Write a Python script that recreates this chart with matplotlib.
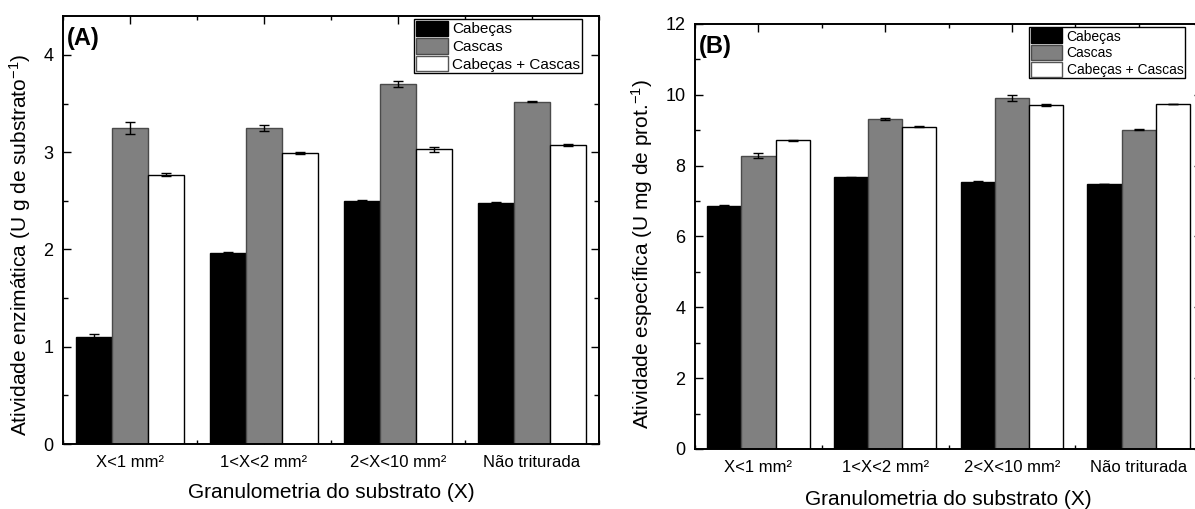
import matplotlib
matplotlib.use("Agg")
import matplotlib.pyplot as plt
import numpy as np
from matplotlib.ticker import MultipleLocator
from matplotlib.patches import Patch

plt.rcParams['font.family'] = ['Liberation Sans', 'DejaVu Sans']
plt.rcParams['mathtext.fontset'] = 'custom'
plt.rcParams['mathtext.rm'] = 'Liberation Sans'
plt.rcParams['mathtext.it'] = 'Liberation Sans:italic'
plt.rcParams['mathtext.bf'] = 'Liberation Sans:bold'

categories = ["X<1 mm²", "1<X<2 mm²", "2<X<10 mm²", "Não triturada"]
series_names = ["Cabeças", "Cascas", "Cabeças + Cascas"]

# Panel A: Atividade enzimática
a_cabecas = [1.10, 1.96, 2.50, 2.48]
a_cascas = [3.25, 3.25, 3.70, 3.52]
a_mix = [2.77, 2.99, 3.03, 3.07]
a_cabecas_err = [0.03, 0.01, 0.01, 0.005]
a_cascas_err = [0.06, 0.03, 0.035, 0.006]
a_mix_err = [0.015, 0.01, 0.027, 0.01]

# Panel B: Atividade específica
b_cabecas = [6.87, 7.67, 7.54, 7.48]
b_cascas = [8.28, 9.31, 9.92, 9.02]
b_mix = [8.71, 9.10, 9.71, 9.74]
b_cabecas_err = [0.01, 0.01, 0.02, 0.01]
b_cascas_err = [0.075, 0.03, 0.085, 0.02]
b_mix_err = [0.02, 0.01, 0.03, 0.01]

fill_colors = ["#000000", "#808080", "#ffffff"]
edge_colors = ["#000000", "#4a4a4a", "#000000"]

fig = plt.figure(figsize=(11.95, 5.09), dpi=100)
axA = fig.add_axes([0.0527, 0.1277, 0.4485, 0.8409])
axB = fig.add_axes([0.5816, 0.1179, 0.4243, 0.8350])

def draw(ax, vals, errs, ylim, ymaj, ymin, ylabel, tag, legend_anchor, ylab_xy, xlab_pad,
         leg_fs, leg_hh):
    x = np.arange(len(categories))
    w = 0.27
    for i, (v, e) in enumerate(zip(vals, errs)):
        ax.bar(x + (i - 1) * w, v, width=w, color=fill_colors[i], edgecolor=edge_colors[i],
               linewidth=1.0, yerr=e, capsize=3.5,
               error_kw=dict(ecolor='black', elinewidth=1.0, capthick=1.0), zorder=2)
    ax.set_xlim(-0.5, 3.5)
    ax.set_ylim(*ylim)
    ax.set_xticks(x)
    ax.set_xticklabels(categories, fontsize=12)
    ax.xaxis.set_minor_locator(MultipleLocator(0.5))
    ax.yaxis.set_major_locator(MultipleLocator(ymaj))
    ax.yaxis.set_minor_locator(MultipleLocator(ymin))
    ax.tick_params(which='both', direction='in', top=True, right=True)
    ax.tick_params(which='major', length=6, width=1.0)
    ax.tick_params(which='minor', length=3.5, width=1.0)
    ax.tick_params(axis='x', which='minor', length=3)
    ax.tick_params(axis='x', which='major', pad=8)
    ax.tick_params(axis='y', which='major', pad=7, labelsize=13)
    for s in ax.spines.values():
        s.set_linewidth(1.4)
    ax.set_ylabel(ylabel, fontsize=15)
    ax.yaxis.set_label_coords(*ylab_xy)
    ax.set_xlabel("Granulometria do substrato (X)", fontsize=15, labelpad=xlab_pad)
    ax.text(0.008, 0.975, tag, transform=ax.transAxes, fontsize=17, fontweight='bold',
            va='top', ha='left')
    handles = [Patch(facecolor=fill_colors[i], edgecolor=edge_colors[i] if i != 2 else '#555555',
                     linewidth=1.0) for i in range(3)]
    leg = ax.legend(handles, series_names, loc='upper left', bbox_to_anchor=legend_anchor,
                    fontsize=leg_fs, frameon=True, fancybox=False, edgecolor='black',
                    framealpha=1, borderpad=0.1, labelspacing=0.1, handlelength=23 / leg_fs,
                    handleheight=leg_hh, handletextpad=0.3, borderaxespad=0.0)
    leg.get_frame().set_linewidth(1.0)

draw(axA, [a_cabecas, a_cascas, a_mix], [a_cabecas_err, a_cascas_err, a_mix_err],
     (0, 4.4), 1, 0.5, "Atividade enzimática (U g de substrato$^{-1}$)", "(A)",
     (0.655, 0.993), (-0.056, 0.465), 9, 11, 1.2)
draw(axB, [b_cabecas, b_cascas, b_mix], [b_cabecas_err, b_cascas_err, b_mix_err],
     (0, 12), 2, 1, "Atividade específica (U mg de prot.$^{-1}$)", "(B)",
     (0.659, 0.993), (-0.079, 0.459), 11, 10, 1.3)

fig.savefig("out.png", dpi=100)
